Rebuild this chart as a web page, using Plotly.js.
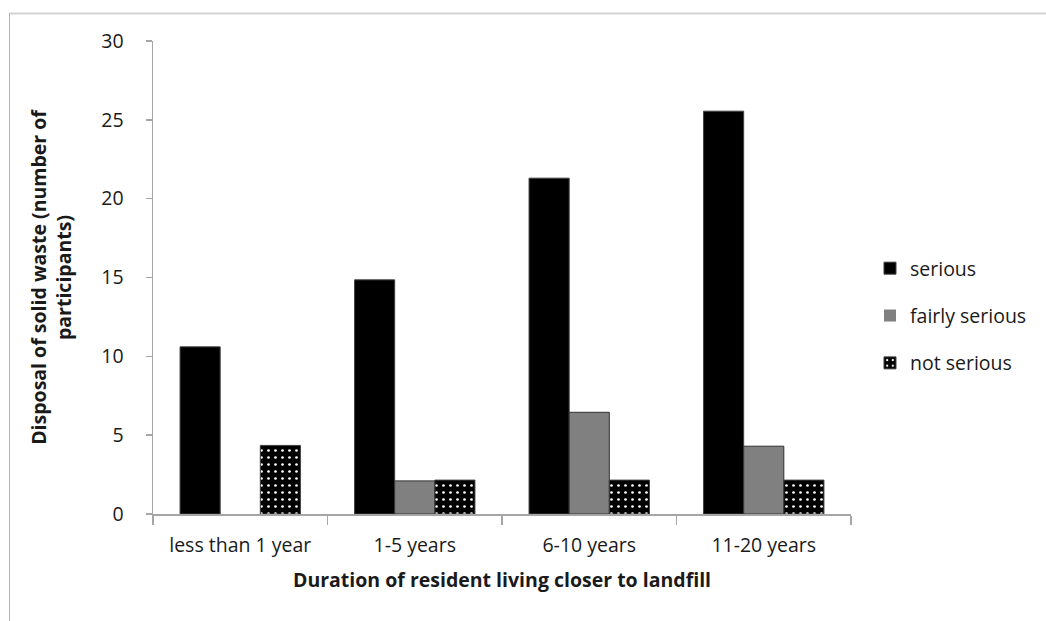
<!DOCTYPE html>
<html>
<head>
<meta charset="utf-8">
<script src="https://cdn.plot.ly/plotly-3.0.1.min.js"></script>
<style>
html,body{margin:0;padding:0;background:#fff;}
#chart{width:1046px;height:621px;}
</style>
</head>
<body>
<div id="chart"></div>
<script>
const categories = ["less than 1 year", "1-5 years", "6-10 years", "11-20 years"];
const seriousVals = [10.6, 14.85, 21.3, 25.55];
const fairlySeriousVals = [0, 2.1, 6.45, 4.3];
const notSeriousVals = [4.35, 2.15, 2.15, 2.15];
const seriesNames = ["serious", "fairly serious", "not serious"];
const yTicks = [0, 5, 10, 15, 20, 25, 30];

const FONT = "'Open Sans', Lato, sans-serif";
const FS = 19.5;
const TXT = "#1a1a1a";

const traces = [
  {
    type: "bar", name: seriesNames[0], x: categories, y: seriousVals,
    legendgroup: "a",
    marker: {color: "#000000", line: {color: "#404040", width: 1}}
  },
  {
    type: "bar", name: seriesNames[1], x: categories, y: fairlySeriousVals,
    legendgroup: "b",
    marker: {color: "#808080", line: {color: "#303030", width: [0, 1, 1, 1]}}
  },
  {
    type: "bar", name: seriesNames[2], x: categories, y: notSeriousVals,
    legendgroup: "c",
    marker: {
      color: "#000000",
      line: {color: "#404040", width: 1},
      pattern: {shape: ".", bgcolor: "#000000", fgcolor: "#ffffff", size: 7, solidity: 0.12, fillmode: "replace"}
    }
  }
];

const L = 153, R = 195, T = 41, B = 107, W = 1046, H = 621;
const pw = W - L - R, ph = H - T - B;
const px2x = p => (p - L) / pw;
const py2y = p => (H - B - p) / ph;

const layout = {
  width: W, height: H,
  margin: {l: L, r: R, t: T, b: B},
  paper_bgcolor: "#ffffff", plot_bgcolor: "#ffffff",
  font: {family: FONT, size: FS, color: TXT},
  barmode: "group",
  bargap: 0.31,
  bargroupgap: 0,
  showlegend: true,
  legend: {
    x: px2x(870), xanchor: "left",
    y: py2y(316), yanchor: "middle",
    font: {family: FONT, size: FS, color: TXT},
    tracegroupgap: 19,
    itemwidth: 30,
    bgcolor: "rgba(0,0,0,0)"
  },
  xaxis: {
    type: "category",
    showline: true, linecolor: "#a6a6a6", linewidth: 1.5,
    ticks: "outside", tickson: "boundaries", ticklen: 9, tickcolor: "#a6a6a6", tickwidth: 1.5,
    ticklabelstandoff: 13,
    tickfont: {family: FONT, size: FS, color: TXT},
    showgrid: false, zeroline: false,
    title: {text: "<b>Duration of resident living closer to landfill</b>", font: {family: FONT, size: FS, color: TXT}, standoff: 16}
  },
  yaxis: {
    range: [0, 30],
    tickvals: yTicks,
    showline: true, linecolor: "#a6a6a6", linewidth: 1.5,
    ticks: "outside", ticklen: 6, tickcolor: "#a6a6a6", tickwidth: 1.5,
    ticklabelstandoff: 18,
    tickfont: {family: FONT, size: FS, color: TXT},
    showgrid: false, zeroline: false,
    title: {text: "<b>Disposal of solid waste (number of<br>participants)</b>", font: {family: FONT, size: FS, color: TXT}, standoff: 24}
  },
  shapes: [
    {type: "line", xref: "paper", yref: "paper", x0: px2x(9), x1: px2x(1046), y0: py2y(13.5), y1: py2y(13.5), line: {color: "#d4d4d4", width: 2}},
    {type: "line", xref: "paper", yref: "paper", x0: px2x(9.5), x1: px2x(9.5), y0: py2y(13), y1: py2y(621), line: {color: "#b4b4b4", width: 1}}
  ]
};

Plotly.newPlot("chart", traces, layout, {displayModeBar: false, staticPlot: true});
</script>
</body>
</html>
